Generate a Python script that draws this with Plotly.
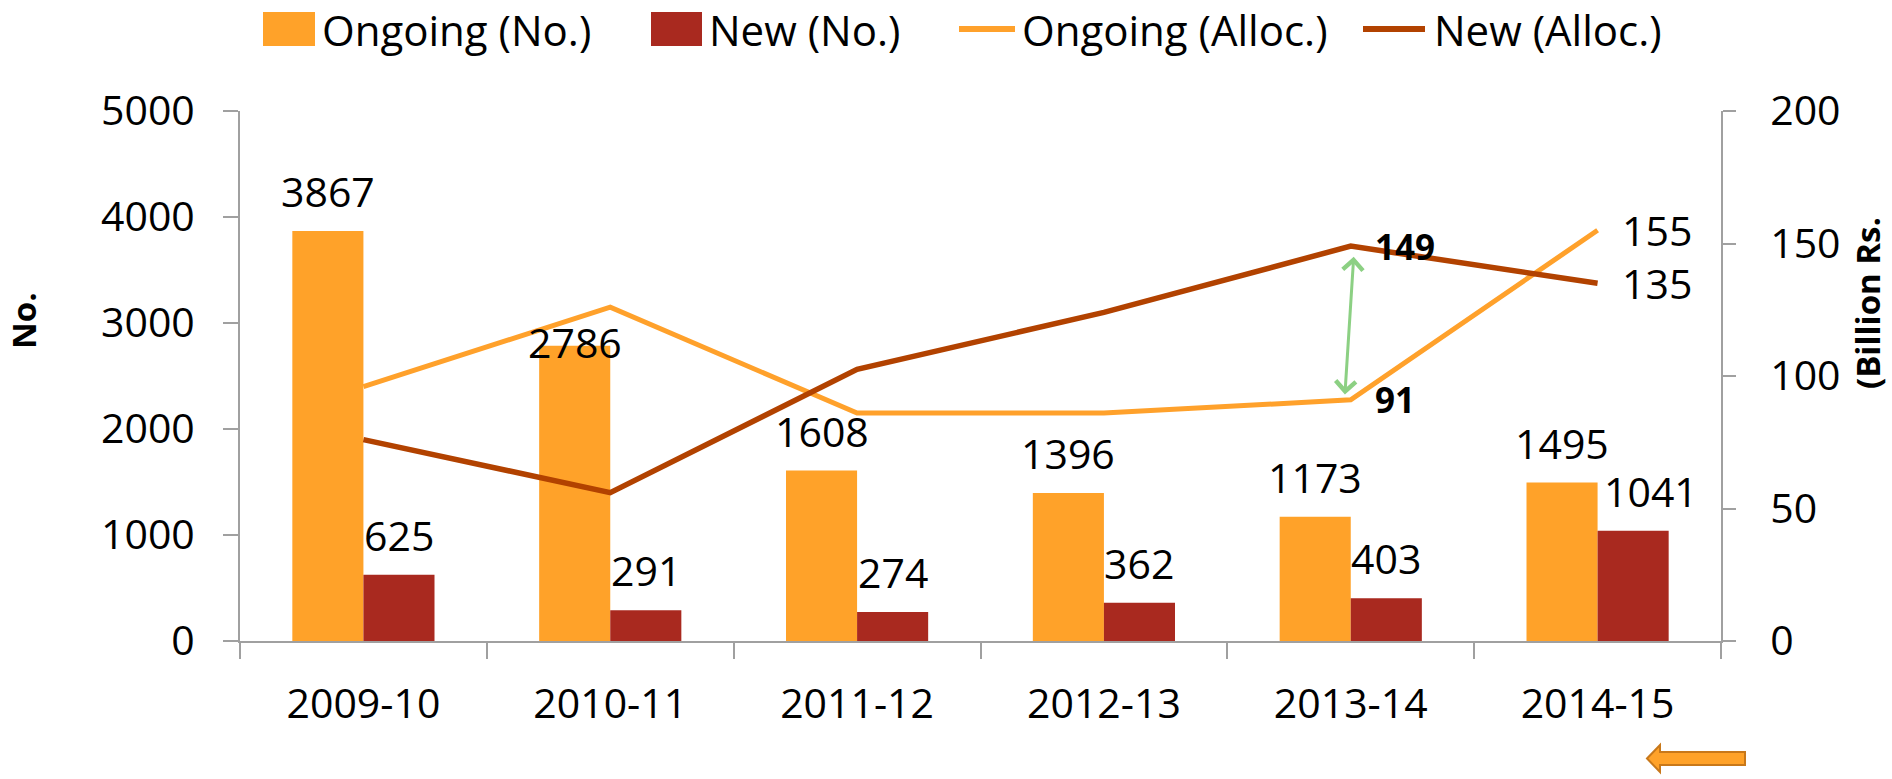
import plotly.graph_objects as go

# ---- data ----
years = ["2009-10", "2010-11", "2011-12", "2012-13", "2013-14", "2014-15"]
ongoing_no = [3867, 2786, 1608, 1396, 1173, 1495]
new_no = [625, 291, 274, 362, 403, 1041]
ongoing_alloc = [96, 126, 86, 86, 91, 155]
new_alloc = [76, 56, 102.5, 124, 149, 135]
left_ticks = [0, 1000, 2000, 3000, 4000, 5000]
right_ticks = [0, 50, 100, 150, 200]

# ---- style ----
C_ONG = "#FFA229"
C_NEW = "#A9291F"
C_ONG_L = "#FFA12B"
C_NEW_L = "#B24200"
AXIS = "#A0A0A0"
FONT = "Open Sans"
FS = 41

W_FIG, H_FIG = 1892, 779
L, R, T, B = 240, 1721, 111, 641
PW, PH = R - L, B - T
BARGAP = 0.424
OFF = (1 - BARGAP) / 4


def px(x):
    return (x - L) / PW


def py(y):
    return (B - y) / PH


fig = go.Figure()
fig.add_trace(go.Bar(x=years, y=ongoing_no, name="Ongoing (No.)", marker_color=C_ONG,
                     marker_line_width=0, yaxis="y"))
fig.add_trace(go.Bar(x=years, y=new_no, name="New (No.)", marker_color=C_NEW,
                     marker_line_width=0, yaxis="y"))
fig.add_trace(go.Scatter(x=years, y=ongoing_alloc, name="Ongoing (Alloc.)", mode="lines",
                         line=dict(color=C_ONG_L, width=5), yaxis="y2"))
fig.add_trace(go.Scatter(x=years, y=new_alloc, name="New (Alloc.)", mode="lines",
                         line=dict(color=C_NEW_L, width=5.5), yaxis="y2"))

ann = []
# bar labels
ong_yshift = [40, 4, 40, 40, 40, 40]
new_xshift = [0, 0, 0, 0, 0, 18]
for i, v in enumerate(ongoing_no):
    ann.append(dict(x=i - OFF, y=v, xref="x", yref="y", text=str(v), showarrow=False,
                    xanchor="center", yanchor="middle",
                    yshift=ong_yshift[i], font=dict(size=FS, color="black", family=FONT)))
for i, v in enumerate(new_no):
    ann.append(dict(x=i + OFF, y=v, xref="x", yref="y", text=str(v), showarrow=False,
                    xanchor="center", yanchor="middle",
                    yshift=40, xshift=new_xshift[i], font=dict(size=FS, color="black", family=FONT)))
# line labels
for i, bold in [(4, True), (5, False)]:
    for arr in (ongoing_alloc, new_alloc):
        txt = f"<b>{arr[i]:g}</b>" if bold else f"{arr[i]:g}"
        ann.append(dict(x=i, y=arr[i], xref="x", yref="y2", text=txt, showarrow=False,
                        xanchor="left", yanchor="middle", xshift=22,
                        font=dict(size=35 if bold else FS, color="black", family=FONT)))
# green double arrow between the two allocations in 2013-14
ann.append(dict(x=4.012, y=145, xref="x", yref="y2", ax=3.976, ay=92.5, axref="x", ayref="y2",
                text="", showarrow=True, arrowhead=4, startarrowhead=4, arrowside="end+start",
                arrowsize=1.3, startarrowsize=1.3, arrowwidth=3, arrowcolor="rgba(120,200,110,0.85)"))
# axis titles
ann.append(dict(x=px(23), y=py(320), xref="paper", yref="paper", text="<b>No.</b>",
                xanchor="center", yanchor="middle",
                textangle=-90, showarrow=False, font=dict(size=33, color="black", family=FONT)))
ann.append(dict(x=px(1867), y=py(303), xref="paper", yref="paper", text="<b>(Billion Rs.</b>",
                xanchor="center", yanchor="middle",
                textangle=-90, showarrow=False, font=dict(size=33, color="black", family=FONT)))

# manual legend
shapes = []
leg_y = 29
legend_items = [
    ("rect", C_ONG, 263, 315, 320, "Ongoing (No.)"),
    ("rect", C_NEW, 651, 702, 707, "New (No.)"),
    ("line", C_ONG_L, 959, 1015, 1020, "Ongoing (Alloc.)"),
    ("line", C_NEW_L, 1363, 1425, 1432, "New (Alloc.)"),
]
for kind, col, x0, x1, tx, label in legend_items:
    if kind == "rect":
        shapes.append(dict(type="rect", xref="paper", yref="paper", x0=px(x0), x1=px(x1),
                           y0=py(46), y1=py(12), fillcolor=col, line=dict(width=0)))
    else:
        shapes.append(dict(type="line", xref="paper", yref="paper", x0=px(x0), x1=px(x1),
                           y0=py(leg_y), y1=py(leg_y), line=dict(color=col, width=6)))
    ann.append(dict(x=px(tx), y=py(leg_y), xref="paper", yref="paper", text=label,
                    xanchor="left", yanchor="middle", showarrow=False,
                    font=dict(size=42, color="black", family=FONT)))

# small orange arrow at bottom right
pts = [(1647, 758.5), (1660, 745), (1660, 752), (1745, 752), (1745, 765), (1660, 765), (1660, 772)]
path = "M " + " L ".join(f"{px(x):.5f},{py(y):.5f}" for x, y in pts) + " Z"
shapes.append(dict(type="path", xref="paper", yref="paper", path=path,
                   fillcolor=C_ONG, line=dict(color="#C8781A", width=2)))

fig.update_layout(
    width=W_FIG, height=H_FIG,
    margin=dict(l=L, r=W_FIG - R, t=T, b=H_FIG - B, pad=0, autoexpand=False),
    barmode="group", bargap=BARGAP, bargroupgap=0,
    showlegend=False,
    plot_bgcolor="white", paper_bgcolor="white",
    font=dict(family=FONT, size=FS, color="black"),
    xaxis=dict(type="category", range=[-0.5, 5.5], showline=True, linecolor=AXIS, linewidth=2,
               ticks="outside", tickson="boundaries", ticklen=16, tickcolor=AXIS, tickwidth=1.5,
               showgrid=False, tickfont=dict(size=FS, family=FONT), ticklabelstandoff=26,
               automargin=False),
    yaxis=dict(range=[0, 5000], tickvals=left_ticks, showline=True, linecolor=AXIS, linewidth=2,
               ticks="outside", ticklen=15, tickcolor=AXIS, tickwidth=1.5, showgrid=False,
               zeroline=False, tickfont=dict(size=FS, family=FONT), ticklabelstandoff=20,
               automargin=False),
    yaxis2=dict(range=[0, 200], tickvals=right_ticks, overlaying="y", side="right",
                showline=True, linecolor=AXIS, linewidth=2, ticks="outside", ticklen=13,
                tickcolor=AXIS, tickwidth=1.5, showgrid=False, zeroline=False,
                tickfont=dict(size=FS, family=FONT), ticklabelstandoff=26, automargin=False),
    annotations=ann,
    shapes=shapes,
)

fig.write_html(
    "out.html",
    config={"displayModeBar": False},
    post_script="document.body.style.margin='0';document.body.style.padding='0';"
                "document.body.style.overflow='hidden';",
)
